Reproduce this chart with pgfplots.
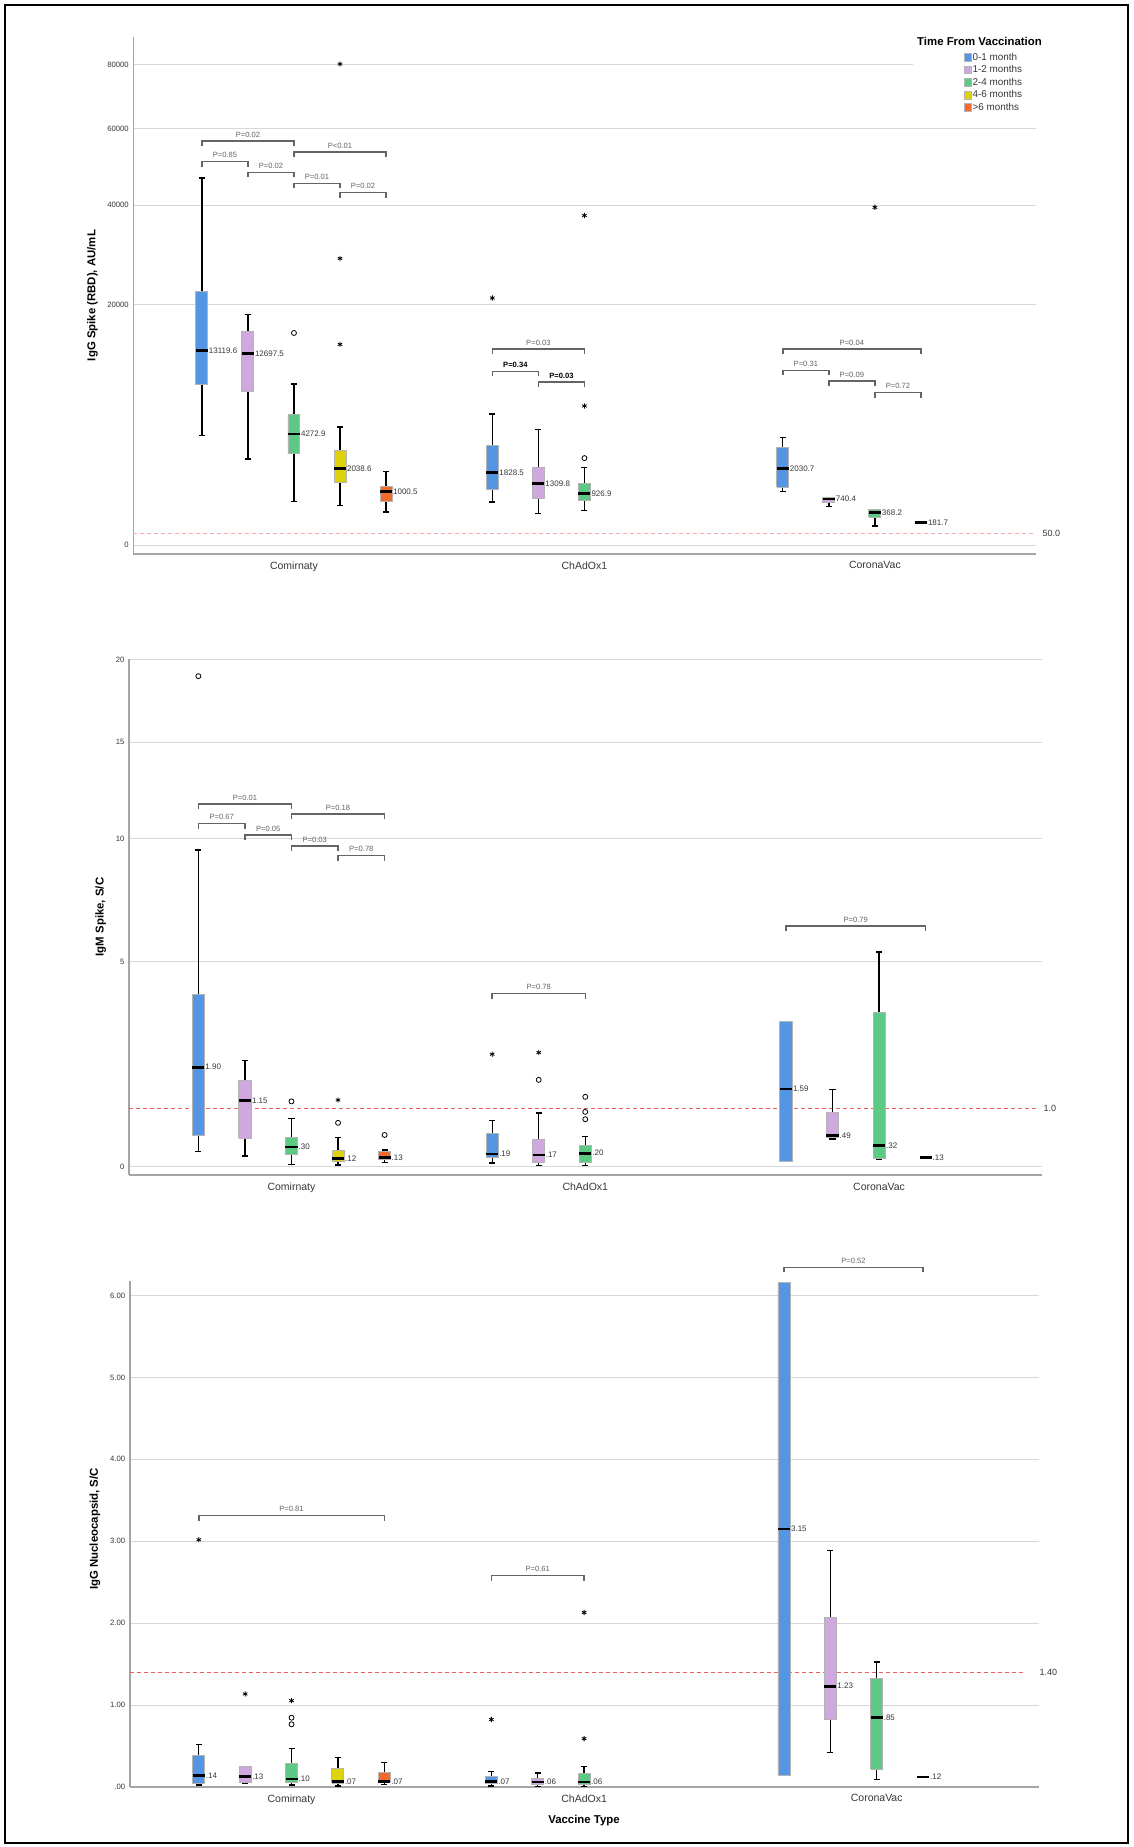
\documentclass[border=0pt]{standalone}
\usepackage{fontspec}
\setmainfont{Liberation Sans}
\usepackage{pgfplots}
\pgfplotsset{compat=1.18}

\definecolor{cb}{RGB}{84,149,228}
\definecolor{cp}{RGB}{206,168,223}
\definecolor{cg}{RGB}{92,201,133}
\definecolor{cy}{RGB}{222,211,10}
\definecolor{co}{RGB}{243,107,44}
\definecolor{axgray}{RGB}{165,165,165}
\definecolor{gridgray}{RGB}{215,215,215}
\definecolor{boxgray}{RGB}{180,180,180}
\definecolor{txt}{RGB}{55,55,55}
\definecolor{brkc}{RGB}{100,100,100}
\definecolor{refA}{RGB}{246,170,170}
\definecolor{refB}{RGB}{240,95,95}

\newcommand\tickfont{\fontsize{7.7}{8}\selectfont}
\newcommand\catfont{\fontsize{10.5}{11}\selectfont}
\newcommand\plfont{\fontsize{7.6}{8}\selectfont}
\newcommand\mlfont{\fontsize{8}{8}\selectfont}
\newcommand\labfont{\fontsize{11.4}{12}\selectfont\bfseries}
\newcommand\legfont{\fontsize{9.9}{10}\selectfont}

\tikzset{
  whisk/.style={black, line width=1.3pt},
  brk/.style={draw=brkc, line width=1.5pt},
  plab/.style={anchor=south, yshift=3pt, inner sep=0.5pt, font=\plfont, text=brkc},
  mlab/.style={anchor=west, xshift=6.3pt, inner sep=0.6pt, font=\mlfont, text=txt},
}

% box: pos, colour, lower whisker, q1, median, q3, upper whisker
\newcommand{\bx}[7]{%
  \pgfmathsetmacro\xl{#1-0.13}\pgfmathsetmacro\xr{#1+0.13}%
  \pgfmathsetmacro\cL{#1-0.065}\pgfmathsetmacro\cR{#1+0.065}%
  \addplot[forget plot, whisk] coordinates {(#1,#3) (#1,#4)};
  \addplot[forget plot, whisk] coordinates {(#1,#6) (#1,#7)};
  \addplot[forget plot, whisk] coordinates {(\cL,#3) (\cR,#3)};
  \addplot[forget plot, whisk] coordinates {(\cL,#7) (\cR,#7)};
  \addplot[forget plot, fill=#2, draw=boxgray, line width=0.9pt] coordinates {(\xl,#4) (\xr,#4) (\xr,#6) (\xl,#6) (\xl,#4)};
  \addplot[forget plot, black, line width=2.6pt] coordinates {(\xl,#5) (\xr,#5)};
}
\newcommand{\med}[2]{%
  \pgfmathsetmacro\xl{#1-0.13}\pgfmathsetmacro\xr{#1+0.13}%
  \addplot[forget plot, black, line width=2.6pt] coordinates {(\xl,#2) (\xr,#2)};
}
\newcommand{\ml}[3]{\node[mlab] at (axis cs:#1,#2) {#3};}
\newcommand{\br}[5]{%
  \draw[brk] ([yshift=-5pt]axis cs:#1,#3) -- (axis cs:#1,#3) -- (axis cs:#2,#3) -- ([yshift=-5pt]axis cs:#2,#3);
  \node[plab] at (axis cs:#4,#3) {#5};}

\pgfplotsset{
  spss/.style={
    scale only axis, clip=false,
    axis x line*=bottom, axis y line*=left,
    axis line style={draw=axgray, line width=1.6pt, -},
    ymajorgrids, grid style={draw=gridgray, line width=1.1pt},
    major tick length=0pt,
    xmin=-3.49, xmax=16.12,
    xtick={0,6.31,12.62}, xticklabels={Comirnaty,ChAdOx1,CoronaVac},
    xticklabel style={font=\catfont, text=txt, yshift=-4pt},
    yticklabel style={font=\tickfont, text=txt, xshift=-1pt},
  },
  outstar/.style={forget plot, only marks, mark=asterisk, mark size=2.6pt, mark options={black, line width=0.8pt}},
  outcirc/.style={forget plot, only marks, mark=o, mark size=2.5pt, mark options={black, line width=0.8pt}},
}

\begin{document}
\begin{tikzpicture}
\useasboundingbox (0,0) rectangle (1133pt,1847pt);
\fill[white] (0,0) rectangle (1133pt,1847pt);

%================ Panel 1 : IgG Spike (RBD) =================
\begin{axis}[spss, at={(133.3pt,1293pt)}, anchor=south west,
  width=902.7pt, height=516.8pt,
  y coord trafo/.code={\begingroup\pgfkeys{/pgf/fpu=true,/pgf/fpu/output format=fixed}\pgfmathparse{sqrt(abs(#1))*(2*(#1>=0)-1)}\xdef\trafores{\pgfmathresult}\endgroup\let\pgfmathresult\trafores},
  ymin=-26, ymax=89340,
  ytick={0,20000,40000,60000,80000}, yticklabels={0,20000,40000,60000,80000},
  legend style={at={(rel axis cs:0.9195,0.9715)}, anchor=north west, draw=none, fill=none,
    inner sep=0pt, row sep=2.3pt, font=\legfont, cells={anchor=west}, nodes={inner sep=0.8pt, text=txt}},
  legend image code/.code={\draw[#1, draw=boxgray, line width=0.6pt] (0pt,-3.9pt) rectangle (7.7pt,3.9pt);},
]
\fill[white] (rel axis cs:0.8637,0.8553) rectangle (rel axis cs:1.012,1.012);
\node[font=\labfont, text=black] at (rel axis cs:0.9374,0.9913) {Time From Vaccination};

\addplot[forget plot, refA, dash pattern=on 4pt off 3pt, line width=1.2pt] coordinates {(-3.49,50) (16.12,50)};
\node[anchor=west, font=\fontsize{9}{10}\selectfont, text=txt, inner sep=0.5pt] at (axis cs:16.12,50) [xshift=6pt] {50.0};

\bx{-2}{cb}{4194}{8935}{13119.6}{22240}{46710}
\bx{-1}{cp}{2583}{8185}{12697.5}{15850}{18385}
\bx{0}{cg}{670}{2897}{4272.9}{5884}{9003}
\bx{1}{cy}{551}{1386}{2038.6}{3097}{4843}
\bx{2}{co}{386}{661}{1000.5}{1184}{1895}
\bx{4.31}{cb}{652}{1082}{1828.5}{3419}{5975}
\bx{5.31}{cp}{343}{755}{1309.8}{2121}{4624}
\bx{6.31}{cg}{419}{701}{926.9}{1309}{2105}
\bx{10.62}{cb}{994}{1172}{2030.7}{3290}{4015}
\bx{11.62}{cp}{529}{631}{740.4}{780}{790}
\bx{12.62}{cg}{129}{276}{368.2}{451}{451}
\med{13.62}{181.7}

\addplot[outstar] coordinates {(1,80150) (1,28480) (1,13970) (4.31,21160) (6.31,37640) (6.31,6724) (12.62,39530)};
\addplot[outcirc] coordinates {(0,15600) (6.31,2632)};

\ml{-2}{13119.6}{13119.6}
\ml{-1}{12697.5}{12697.5}
\ml{0}{4272.9}{4272.9}
\ml{1}{2038.6}{2038.6}
\ml{2}{1000.5}{1000.5}
\ml{4.31}{1828.5}{1828.5}
\ml{5.31}{1309.8}{1309.8}
\ml{6.31}{926.9}{926.9}
\ml{10.62}{2030.7}{2030.7}
\ml{11.62}{740.4}{740.4}
\ml{12.62}{368.2}{368.2}
\ml{13.62}{181.7}{181.7}

\br{-2}{0}{56540}{-1}{P=0.02}
\br{-2}{-1}{50910}{-1.5}{P=0.85}
\br{-1}{0}{48120}{-0.5}{P=0.02}
\br{0}{2}{53580}{1}{P<0.01}
\br{0}{1}{45320}{0.5}{P=0.01}
\br{1}{2}{43020}{1.5}{P=0.02}
\br{4.31}{6.31}{13320}{5.31}{P=0.03}
\br{4.31}{5.31}{10480}{4.81}{\textcolor{black}{\bfseries P=0.34}}
\br{5.31}{6.31}{9204}{5.81}{\textcolor{black}{\bfseries P=0.03}}
\br{10.62}{13.62}{13320}{12.12}{P=0.04}
\br{10.62}{11.62}{10595}{11.12}{P=0.31}
\br{11.62}{12.62}{9364}{12.12}{P=0.09}
\br{12.62}{13.62}{8060}{13.12}{P=0.72}

\addlegendimage{fill=cb}\addlegendentry{0-1 month}
\addlegendimage{fill=cp}\addlegendentry{1-2 months}
\addlegendimage{fill=cg}\addlegendentry{2-4 months}
\addlegendimage{fill=cy}\addlegendentry{4-6 months}
\addlegendimage{fill=co}\addlegendentry{>6 months}
\end{axis}

%================ Panel 2 : IgM Spike =================
\begin{axis}[spss, at={(129pt,671.7pt)}, anchor=south west,
  width=913pt, height=516pt,
  y coord trafo/.code={\begingroup\pgfkeys{/pgf/fpu=true,/pgf/fpu/output format=fixed}\pgfmathparse{(sqrt(abs(#1)+1)-1)*(2*(#1>=0)-1)}\xdef\trafores{\pgfmathresult}\endgroup\let\pgfmathresult\trafores},
  ymin=-0.125, ymax=20.03,
  ytick={0,5,10,15,20}, yticklabels={0,5,10,15,20},
]
\addplot[forget plot, refB, dash pattern=on 4pt off 3pt, line width=1.1pt] coordinates {(-3.49,1) (16.0,1)};
\node[anchor=west, font=\fontsize{9}{10}\selectfont, text=txt, inner sep=0.5pt] at (axis cs:16.12,1) [xshift=1pt] {1.0};

\bx{-2}{cb}{0.229}{0.487}{1.90}{3.908}{9.49}
\bx{-1}{cp}{0.157}{0.444}{1.15}{1.601}{2.059}
\bx{0}{cg}{0.036}{0.184}{0.30}{0.462}{0.804}
\bx{1}{cy}{0.025}{0.077}{0.12}{0.24}{0.45}
\bx{2}{co}{0.062}{0.098}{0.13}{0.223}{0.251}
\bx{4.31}{cb}{0.055}{0.129}{0.19}{0.524}{0.759}
\bx{5.31}{cp}{0.021}{0.06}{0.17}{0.42}{0.906}
\bx{6.31}{cg}{0.021}{0.06}{0.20}{0.327}{0.478}
\bx{10.62}{cb}{0.07}{0.07}{1.4}{3.095}{3.095}
\bx{11.62}{cp}{0.432}{0.455}{0.49}{0.912}{1.389}
\bx{12.62}{cg}{0.114}{0.114}{0.32}{3.376}{5.342}
\med{13.62}{0.13}

\addplot[outcirc] coordinates {(-2,18.95) (0,1.136) (1,0.716) (2,0.499) (5.31,1.604) (6.31,1.231) (6.31,0.925) (6.31,0.784)};
\addplot[outstar] coordinates {(1,1.165) (4.31,2.222) (5.31,2.265)};

\ml{-2}{1.90}{1.90}
\ml{-1}{1.15}{1.15}
\ml{0}{0.30}{.30}
\ml{1}{0.12}{.12}
\ml{2}{0.13}{.13}
\ml{4.31}{0.19}{.19}
\ml{5.31}{0.17}{.17}
\ml{6.31}{0.20}{.20}
\ml{10.62}{1.4}{1.59}
\ml{11.62}{0.49}{.49}
\ml{12.62}{0.32}{.32}
\ml{13.62}{0.13}{.13}

\br{-2}{0}{11.69}{-1}{P=0.01}
\br{-2}{-1}{10.73}{-1.5}{P=0.67}
\br{-1}{0}{10.19}{-0.5}{P=0.05}
\br{0}{2}{11.19}{1}{P=0.18}
\br{0}{1}{9.67}{0.5}{P=0.03}
\br{1}{2}{9.23}{1.5}{P=0.78}
\br{4.31}{6.31}{3.945}{5.31}{P=0.78}
\br{10.62}{13.62}{6.288}{12.12}{P=0.79}
\end{axis}

%================ Panel 3 : IgG Nucleocapsid =================
\begin{axis}[spss, at={(129.7pt,60pt)}, anchor=south west,
  width=909.3pt, height=506.3pt,
  ymin=0, ymax=6.18,
  ytick={0,1,2,3,4,5,6}, yticklabels={.00,1.00,2.00,3.00,4.00,5.00,6.00},
]
\addplot[forget plot, refB, dash pattern=on 4pt off 3pt, line width=1.1pt] coordinates {(-3.49,1.4) (15.8,1.4)};
\node[anchor=west, font=\fontsize{9}{10}\selectfont, text=txt, inner sep=0.5pt] at (axis cs:16.12,1.4) [xshift=0pt] {1.40};

\bx{-2}{cb}{0.023}{0.041}{0.14}{0.389}{0.516}
\bx{-1}{cp}{0.05}{0.054}{0.13}{0.253}{0.253}
\bx{0}{cg}{0.023}{0.05}{0.10}{0.29}{0.471}
\bx{1}{cy}{0.014}{0.045}{0.07}{0.231}{0.362}
\bx{2}{co}{0.027}{0.063}{0.07}{0.172}{0.303}
\bx{4.31}{cb}{0.014}{0.04}{0.07}{0.13}{0.186}
\bx{5.31}{cp}{0.01}{0.03}{0.06}{0.10}{0.17}
\bx{6.31}{cg}{0.01}{0.03}{0.06}{0.16}{0.25}
\bx{10.62}{cb}{0.142}{0.142}{3.15}{6.161}{6.161}
\bx{11.62}{cp}{0.425}{0.826}{1.23}{2.067}{2.886}
\bx{12.62}{cg}{0.09}{0.216}{0.85}{1.327}{1.527}
\med{13.62}{0.12}

\addplot[outstar] coordinates {(-2,3.018) (-1,1.136) (0,1.054) (4.31,0.824) (6.31,0.59) (6.31,2.13)};
\addplot[outcirc] coordinates {(0,0.846) (0,0.765)};

\ml{-2}{0.14}{.14}
\ml{-1}{0.13}{.13}
\ml{0}{0.10}{.10}
\ml{1}{0.07}{.07}
\ml{2}{0.07}{.07}
\ml{4.31}{0.07}{.07}
\ml{5.31}{0.06}{.06}
\ml{6.31}{0.06}{.06}
\ml{10.62}{3.15}{3.15}
\ml{11.62}{1.23}{1.23}
\ml{12.62}{0.85}{.85}
\ml{13.62}{0.12}{.12}

\br{-2}{2}{3.312}{0}{P=0.81}
\br{4.31}{6.31}{2.58}{5.31}{P=0.61}
\br{10.62}{13.62}{6.344}{12.12}{P=0.52}
\end{axis}

% axis titles
\node[font=\labfont, rotate=90] at (92.5pt,1551.4pt) {IgG Spike (RBD), AU/mL};
\node[font=\labfont, rotate=90] at (100.7pt,930pt) {IgM Spike, S/C};
\node[font=\labfont, rotate=90] at (95pt,318pt) {IgG Nucleocapsid, S/C};
\node[font=\labfont] at (584pt,26pt) {Vaccine Type};

% frame
\draw[black, line width=2pt] (5pt,4pt) rectangle (1128pt,1842pt);
\end{tikzpicture}
\end{document}
